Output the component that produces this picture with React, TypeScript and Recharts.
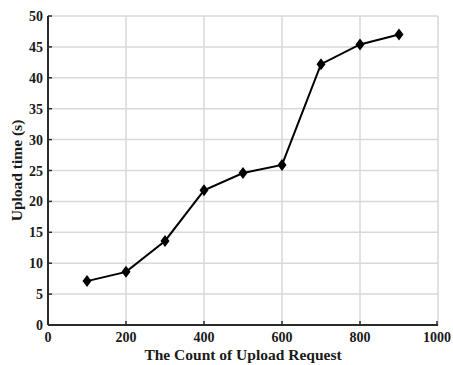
import { CartesianGrid, Line, LineChart, XAxis, YAxis } from "recharts";

const requestCounts = [100, 200, 300, 400, 500, 600, 700, 800, 900];
const uploadTimes = [7.1, 8.6, 13.6, 21.8, 24.6, 25.9, 42.2, 45.4, 47.0];
const xTicks = [0, 200, 400, 600, 800, 1000];
const yTicks = [0, 5, 10, 15, 20, 25, 30, 35, 40, 45, 50];

const data = requestCounts.map((count, i) => ({ count, time: uploadTimes[i] }));

const FONT = '"Liberation Serif", "Times New Roman", serif';
const AXIS = "#2b2b2b";

const textStyle = { fontFamily: FONT, fontSize: 14, fontWeight: 700, fill: "#1a1a1a" };
const titleStyle = { ...textStyle, fontSize: 15.5 };

function BottomTick({ x, y, payload }: any) {
  return (
    <g>
      <line x1={x} y1={y} x2={x} y2={y - 4} stroke={AXIS} strokeWidth={1.5} />
      <text x={x} y={y + 17} textAnchor="middle" style={textStyle}>
        {payload.value}
      </text>
    </g>
  );
}

function LeftTick({ x, y, payload }: any) {
  return (
    <g>
      <line x1={x} y1={y} x2={x + 4} y2={y} stroke={AXIS} strokeWidth={1.5} />
      <text x={x - 5} y={y + 5} textAnchor="end" style={textStyle}>
        {payload.value}
      </text>
    </g>
  );
}

function TopTick({ x, y }: any) {
  return <line x1={x} y1={y} x2={x} y2={y + 4} stroke={AXIS} strokeWidth={1.5} />;
}

function RightTick({ x, y }: any) {
  return <line x1={x} y1={y} x2={x - 4} y2={y} stroke={AXIS} strokeWidth={1.5} />;
}

function Diamond({ cx, cy }: any) {
  if (cx == null || cy == null) return null;
  return <path d={`M${cx},${cy - 6} L${cx + 4.5},${cy} L${cx},${cy + 6} L${cx - 4.5},${cy} Z`} fill="#000" />;
}

export default function App() {
  return (
    <div style={{ position: "absolute", left: 0, top: 0, width: 453, height: 365, background: "#fff" }}>
      <LineChart width={453} height={365} data={data} margin={{ top: 16, right: 15, left: 0, bottom: 0 }}>
        <CartesianGrid stroke="#d9d9d9" strokeWidth={1.5} />
        <XAxis
          dataKey="count"
          type="number"
          domain={[0, 1000]}
          ticks={xTicks}
          height={40}
          tickSize={0}
          tickMargin={0}
          tickLine={false}
          axisLine={{ stroke: AXIS, strokeWidth: 2 }}
          tick={(p: any) => <BottomTick {...p} />}
          label={{
            value: "The Count of Upload Request",
            position: "insideBottom",
            offset: 5,
            style: { ...titleStyle, textAnchor: "middle" },
          }}
        />
        <XAxis
          xAxisId="top"
          orientation="top"
          dataKey="count"
          type="number"
          domain={[0, 1000]}
          ticks={xTicks}
          height={0}
          tickSize={0}
          tickMargin={0}
          tickLine={false}
          axisLine={{ stroke: "#4a4a4a", strokeWidth: 1.5 }}
          tick={(p: any) => <TopTick {...p} />}
        />
        <YAxis
          type="number"
          domain={[0, 50]}
          ticks={yTicks}
          width={48}
          tickSize={0}
          tickMargin={0}
          tickLine={false}
          axisLine={{ stroke: AXIS, strokeWidth: 2 }}
          tick={(p: any) => <LeftTick {...p} />}
          label={{
            position: "center",
            content: ({ viewBox }: any) => {
              const cy = viewBox.y + viewBox.height / 2;
              return (
                <text
                  x={22}
                  y={cy}
                  transform={`rotate(-90, 22, ${cy})`}
                  textAnchor="middle"
                  style={titleStyle}
                >
                  Upload time (s)
                </text>
              );
            },
          }}
        />
        <YAxis
          yAxisId="right"
          orientation="right"
          type="number"
          domain={[0, 50]}
          ticks={yTicks}
          width={0}
          tickSize={0}
          tickMargin={0}
          tickLine={false}
          axisLine={{ stroke: AXIS, strokeWidth: 2 }}
          tick={(p: any) => <RightTick {...p} />}
        />
        <Line
          dataKey="time"
          type="linear"
          stroke="#000"
          strokeWidth={2}
          dot={(p: any) => <Diamond key={p.index} {...p} />}
          activeDot={false}
          isAnimationActive={false}
        />
      </LineChart>
    </div>
  );
}
